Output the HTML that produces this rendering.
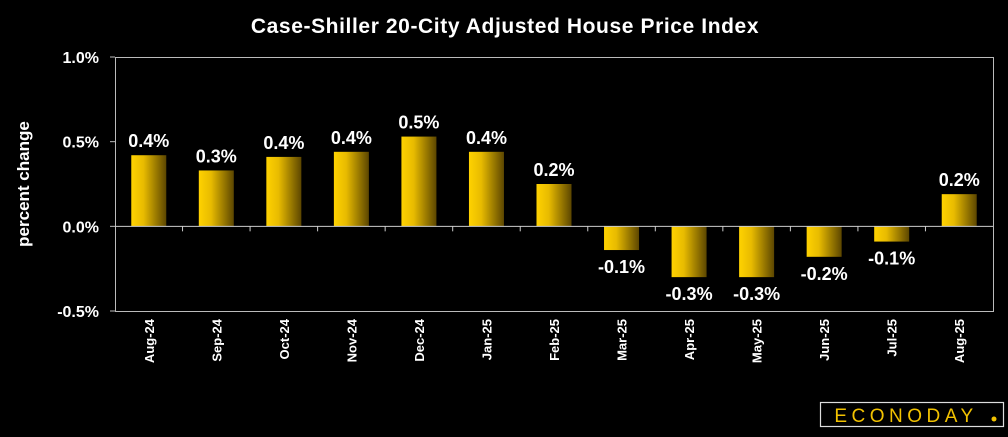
<!DOCTYPE html>
<html><head><meta charset="utf-8"><style>
body{margin:0;background:#000;width:1008px;height:432px;overflow:hidden;font-family:"Liberation Sans",Arial,sans-serif}
svg text{font-family:"Liberation Sans",Arial,sans-serif;font-weight:bold}
</style></head><body>
<svg width="1008" height="432" viewBox="0 0 1008 432">
<defs><linearGradient id="g" x1="0" x2="1" y1="0" y2="0">
<stop offset="0" stop-color="#ffd200"/><stop offset="0.35" stop-color="#e8bb00"/><stop offset="1" stop-color="#5c4600"/></linearGradient></defs>
<text x="505" y="33" fill="#fff" font-size="21" text-anchor="middle" letter-spacing="0.6">Case-Shiller 20-City Adjusted House Price Index</text>
<rect x="115.5" y="57.5" width="878" height="254" fill="none" stroke="#bbb" stroke-width="1"/>
<text transform="translate(29,184) rotate(-90)" fill="#fff" font-size="17" text-anchor="middle">percent change</text>
<g id="yaxis"></g><g id="bars"></g><g id="xaxis"></g>
<g>
<rect x="820.5" y="402.5" width="183" height="24" fill="#000" stroke="#ddd" stroke-width="1.2"/>
<text x="906" y="422" fill="#f2c200" font-size="19" text-anchor="middle" letter-spacing="4.5" style="font-weight:normal">ECONODAY</text>
<circle cx="994" cy="419" r="2.5" fill="#f2c200"/>
</g>
</svg>
<script>
const categories=["Aug-24","Sep-24","Oct-24","Nov-24","Dec-24","Jan-25","Feb-25","Mar-25","Apr-25","May-25","Jun-25","Jul-25","Aug-25"];
const values=[0.42,0.33,0.41,0.44,0.53,0.44,0.25,-0.14,-0.30,-0.30,-0.18,-0.09,0.19];
const labels=["0.4%","0.3%","0.4%","0.4%","0.5%","0.4%","0.2%","-0.1%","-0.3%","-0.3%","-0.2%","-0.1%","0.2%"];
const yTicks=[1.0,0.5,0.0,-0.5];
const yTickLabels=["1.0%","0.5%","0.0%","-0.5%"];
const L=115,R=993,T=57,B=311,ymin=-0.5,ymax=1.0;
const ns="http://www.w3.org/2000/svg";
const y=v=>T+(ymax-v)/(ymax-ymin)*(B-T);
const bw=(R-L)/categories.length;
const x=i=>L+bw*(i+0.5);
function mk(t,a,p){const e=document.createElementNS(ns,t);for(const k in a)e.setAttribute(k,a[k]);p.appendChild(e);return e;}
const ya=document.getElementById('yaxis'),ba=document.getElementById('bars'),xa=document.getElementById('xaxis');
yTicks.forEach((v,i)=>{
 const l=mk('line',{x1:L-5,x2:L,y1:y(v),y2:y(v),stroke:'#bbb'},ya);
 
 
 const t=mk('text',{x:L-16,y:y(v)+6,fill:'#fff','font-size':16,'text-anchor':'end'},ya);
 t.textContent=yTickLabels[i];
 
 
});
const z=mk('line',{x1:L,x2:R,y1:y(0),y2:y(0),stroke:'#ccc'},xa);


for(let i=1;i<categories.length;i++){
 const tk=mk('line',{x1:L+bw*i,x2:L+bw*i,y1:y(0),y2:y(0)+5,stroke:'#ccc'},xa);
 
 
}
categories.forEach((c,i)=>{
 const v=values[i],w=35,top=Math.min(y(v),y(0)),h=Math.abs(y(v)-y(0));
 const r=mk('rect',{x:x(i)-w/2,y:top,width:w,height:h,fill:'url(#g)'},ba);
 
 
 const t=mk('text',{x:x(i),y:v>=0?y(v)-8:y(v)+23,fill:'#fff','font-size':18,'text-anchor':'middle'},ba);
 t.textContent=labels[i];
 
 
 const xl=mk('text',{transform:`translate(${x(i)+5},${B+8}) rotate(-90)`,fill:'#fff','font-size':13,'text-anchor':'end'},xa);
 xl.textContent=c;
 
 
});
</script>
</body></html>
